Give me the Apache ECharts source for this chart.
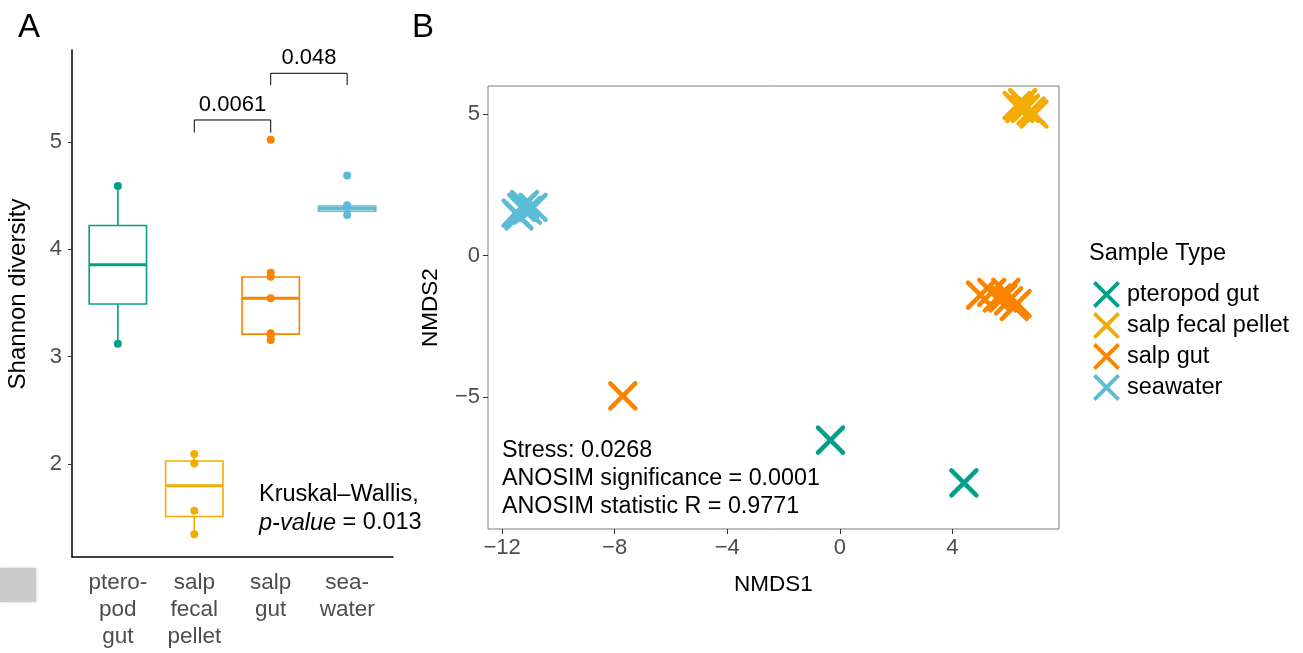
<!DOCTYPE html>
<html>
<head>
<meta charset="utf-8">
<script src="https://cdn.jsdelivr.net/npm/echarts@6/dist/echarts.min.js"></script>
<style>
  html, body { margin: 0; padding: 0; background: #fff; }
  #chart { width: 1303px; height: 653px; }
</style>
</head>
<body>
<div id="chart"></div>
<script>
// ── Panel A data: Shannon diversity per sample type ──
const boxCats = ['ptero-\npod\ngut', 'salp\nfecal\npellet', 'salp\ngut', 'sea-\nwater'];
const boxLow  = [3.12, 1.344, 3.155, 4.354];
const boxQ1   = [3.49, 1.51, 3.21, 4.354];
const boxMed  = [3.855, 1.797, 3.543, 4.38];
const boxQ3   = [4.222, 2.027, 3.742, 4.404];
const boxHigh = [4.59, 2.092, 3.782, 4.404];

const ptsPteropod = [4.59, 3.12];
const ptsFecal    = [2.092, 2.005, 1.564, 1.344];
const ptsSalpGut  = [5.02, 3.782, 3.745, 3.543, 3.217, 3.2, 3.155];
const ptsSeawater = [4.687, 4.41, 4.39, 4.32];

// pairwise brackets: from category, to category, top, tick bottom, label
const brFrom  = [2, 3];
const brTo    = [3, 4];
const brTop   = [5.205, 5.64];
const brBot   = [5.087, 5.53];
const brLabel = ['0.0061', '0.048'];

// ── Panel B data: NMDS coordinates ──
const groups = ['pteropod gut', 'salp fecal pellet', 'salp gut', 'seawater'];
const colors = ['#00A08A', '#F2AD00', '#F98400', '#5BBCD6'];

const pteropodX = [-0.33, 4.41];
const pteropodY = [-6.52, -8.03];
const fecalX = [6.3, 6.5, 6.6, 6.8, 6.9, 6.4];
const fecalY = [5.3, 5.4, 5.2, 5.1, 5.0, 5.2];
const salpGutX = [-7.71, 5.0, 5.4, 5.6, 5.9, 6.0, 6.2, 5.8, 6.3];
const salpGutY = [-4.96, -1.4, -1.3, -1.5, -1.3, -1.6, -1.8, -1.5, -1.7];
const seawaterX = [-11.5, -11.3, -11.1, -10.9, -11.4, -11.2];
const seawaterY = [1.5, 1.7, 1.6, 1.7, 1.4, 1.8];

const ptsA = [ptsPteropod, ptsFecal, ptsSalpGut, ptsSeawater];
const nmds = [[pteropodX, pteropodY], [fecalX, fecalY], [salpGutX, salpGutY], [seawaterX, seawaterY]];

const FONT = '"Liberation Sans", Arial, Helvetica, sans-serif';
const minus = v => (v < 0 ? '\u2212' + Math.abs(v) : String(v));
const crossIcon = 'path://M2,0 L10,8 L18,0 L20,2 L12,10 L20,18 L18,20 L10,12 L2,20 L0,18 L8,10 L0,2 Z';

const chart = echarts.init(document.getElementById('chart'));

function renderBox(params, api) {
  const i = params.dataIndex;
  const x = api.value(0);
  const half = api.size([0.75, 0])[0] / 2;
  const c = colors[i];
  const pLo = api.coord([x, api.value(1)]);
  const pQ1 = api.coord([x, api.value(2)]);
  const pMed = api.coord([x, api.value(3)]);
  const pQ3 = api.coord([x, api.value(4)]);
  const pHi = api.coord([x, api.value(5)]);
  const st = { stroke: c, lineWidth: 1.6, fill: null };
  return {
    type: 'group',
    children: [
      { type: 'line', shape: { x1: pLo[0], y1: pLo[1], x2: pQ1[0], y2: pQ1[1] }, style: st },
      { type: 'line', shape: { x1: pQ3[0], y1: pQ3[1], x2: pHi[0], y2: pHi[1] }, style: st },
      { type: 'rect', shape: { x: pQ1[0] - half, y: pQ3[1], width: half * 2, height: pQ1[1] - pQ3[1] },
        style: { stroke: c, lineWidth: 1.6, fill: '#fff' } },
      { type: 'line', shape: { x1: pMed[0] - half, y1: pMed[1], x2: pMed[0] + half, y2: pMed[1] },
        style: { stroke: c, lineWidth: 3 } }
    ]
  };
}

function renderBracket(params, api) {
  const i = params.dataIndex;
  const a = api.coord([api.value(0), api.value(3)]);
  const b = api.coord([api.value(0), api.value(2)]);
  const d = api.coord([api.value(1), api.value(2)]);
  const e = api.coord([api.value(1), api.value(3)]);
  return {
    type: 'group',
    children: [
      { type: 'polyline', shape: { points: [a, b, d, e] }, style: { stroke: '#000', lineWidth: 1, fill: null } },
      { type: 'text', x: (b[0] + d[0]) / 2, y: b[1] - 4,
        style: { text: brLabel[i], fill: '#000', font: '22px ' + FONT, align: 'center', verticalAlign: 'bottom' } }
    ]
  };
}

function renderCross(params, api) {
  const p = api.coord([api.value(0), api.value(1)]);
  const h = 12.5;
  const st = { stroke: api.visual('color'), lineWidth: 4.5, lineCap: 'round' };
  return {
    type: 'group',
    children: [
      { type: 'line', shape: { x1: p[0] - h, y1: p[1] - h, x2: p[0] + h, y2: p[1] + h }, style: st },
      { type: 'line', shape: { x1: p[0] - h, y1: p[1] + h, x2: p[0] + h, y2: p[1] - h }, style: st }
    ]
  };
}

const series = [];

series.push({
  type: 'custom', xAxisIndex: 0, yAxisIndex: 0, silent: true,
  renderItem: renderBox,
  data: boxCats.map((_, i) => [i + 1, boxLow[i], boxQ1[i], boxMed[i], boxQ3[i], boxHigh[i]]),
  z: 2
});

ptsA.forEach((arr, i) => {
  series.push({
    type: 'scatter', xAxisIndex: 0, yAxisIndex: 0, silent: true,
    symbolSize: 8, itemStyle: { color: colors[i], opacity: 1 },
    data: arr.map(v => [i + 1, v]), z: 3
  });
});

series.push({
  type: 'custom', xAxisIndex: 0, yAxisIndex: 0, silent: true,
  renderItem: renderBracket,
  data: brLabel.map((_, i) => [brFrom[i], brTo[i], brTop[i], brBot[i]]),
  z: 4
});

nmds.forEach((g, i) => {
  series.push({
    name: groups[i],
    type: 'custom', xAxisIndex: 1, yAxisIndex: 1, silent: true,
    itemStyle: { color: colors[i] },
    renderItem: renderCross,
    data: g[0].map((x, j) => [x, g[1][j]])
  });
});

const tickLab = { fontSize: 22, color: '#4D4D4D', fontFamily: FONT };

chart.setOption({
  animation: false,
  textStyle: { fontFamily: FONT },
  grid: [
    { left: 72, right: 910, top: 50, bottom: 96 },
    { left: 488, right: 244, top: 86, bottom: 124, show: true, borderColor: '#7F7F7F', borderWidth: 1 }
  ],
  xAxis: [
    {
      gridIndex: 0, type: 'value', min: 0.4, max: 4.6,
      axisLine: { show: true, onZero: false, lineStyle: { color: '#000', width: 1.5 } },
      axisTick: { show: false },
      splitLine: { show: false },
      axisLabel: Object.assign({}, tickLab, {
        fontSize: 22.5, customValues: [1, 2, 3, 4], margin: 12, lineHeight: 27,
        formatter: v => boxCats[Math.round(v) - 1]
      })
    },
    {
      gridIndex: 1, type: 'value', min: -12.5, max: 7.79,
      axisLine: { show: false, onZero: false },
      axisTick: { show: true, customValues: [-12, -8, -4, 0, 4], length: 5, lineStyle: { color: '#333' } },
      splitLine: { show: false },
      axisLabel: Object.assign({}, tickLab, { customValues: [-12, -8, -4, 0, 4], margin: 8, formatter: minus }),
      name: 'NMDS1', nameLocation: 'middle', nameGap: 44,
      nameTextStyle: { fontSize: 22.5, color: '#000', fontFamily: FONT }
    }
  ],
  yAxis: [
    {
      gridIndex: 0, type: 'value', min: 1.133, max: 5.857,
      axisLine: { show: true, onZero: false, lineStyle: { color: '#000', width: 1.5 } },
      axisTick: { show: true, customValues: [2, 3, 4, 5], length: 4, lineStyle: { color: '#333' } },
      splitLine: { show: false },
      axisLabel: Object.assign({}, tickLab, { customValues: [2, 3, 4, 5], margin: 10 })
    },
    {
      gridIndex: 1, type: 'value', min: -9.66, max: 5.99,
      axisLine: { show: false, onZero: false },
      axisTick: { show: true, customValues: [-5, 0, 5], length: 5, lineStyle: { color: '#333' } },
      splitLine: { show: false },
      axisLabel: Object.assign({}, tickLab, { customValues: [-5, 0, 5], margin: 8, formatter: minus }),
      name: 'NMDS2', nameLocation: 'middle', nameGap: 46, nameRotate: 90,
      nameTextStyle: { fontSize: 22.5, color: '#000', fontFamily: FONT }
    }
  ],
  legend: {
    orient: 'vertical', left: 1088, top: 276,
    itemWidth: 27, itemHeight: 27, itemGap: 4,
    selectedMode: false,
    textStyle: { fontSize: 23.5, color: '#000', fontFamily: FONT, padding: [0, 0, 0, 2] },
    data: groups.map(g => ({ name: g, icon: crossIcon }))
  },
  graphic: [
    { type: 'text', left: 18, top: 11, style: { text: 'A', font: '33px ' + FONT, fill: '#000' } },
    { type: 'text', left: 412, top: 11, style: { text: 'B', font: '33px ' + FONT, fill: '#000' } },
    { type: 'text', x: 18, y: 294, rotation: Math.PI / 2,
      style: { text: 'Shannon diversity', font: '24px ' + FONT, fill: '#000', align: 'center', verticalAlign: 'middle' } },
    { type: 'text', left: 1089, top: 242, style: { text: 'Sample Type', font: '23.5px ' + FONT, fill: '#000' } },
    { type: 'text', left: 259, top: 481, style: {
        text: 'Kruskal\u2013Wallis,\n{i|p-value} = 0.013', font: '23.5px ' + FONT, fill: '#000', lineHeight: 28,
        rich: { i: { fontStyle: 'italic', fontSize: 23.5, fontFamily: FONT } } } },
    { type: 'text', left: 502, top: 437, style: {
        text: 'Stress: 0.0268\nANOSIM significance = 0.0001\nANOSIM statistic R = 0.9771',
        font: '23.3px ' + FONT, fill: '#000', lineHeight: 28 } },
    { type: 'rect', shape: { x: 0, y: 568, width: 36, height: 34 },
      style: { fill: '#CBCBCB', shadowBlur: 3, shadowColor: '#CBCBCB' } }
  ],
  series: series
});
</script>
</body>
</html>
